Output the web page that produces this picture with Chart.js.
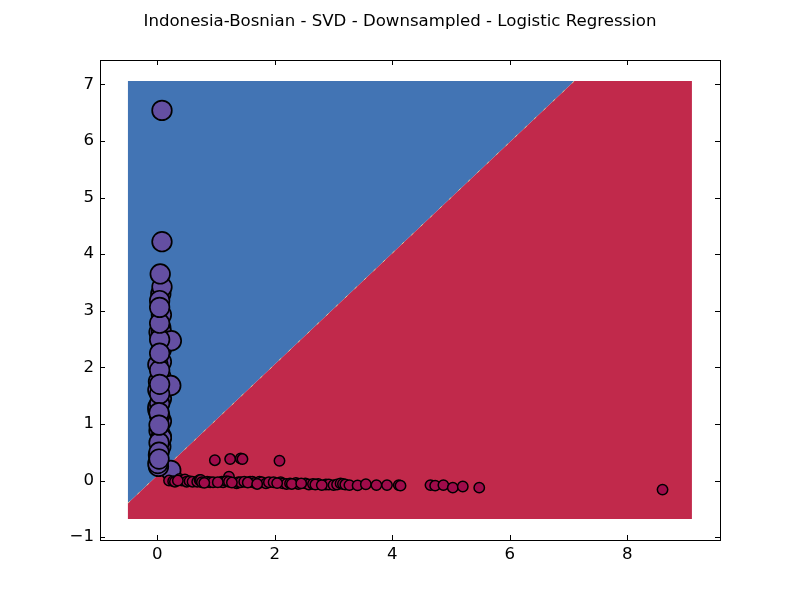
<!DOCTYPE html>
<html>
<head>
<meta charset="utf-8">
<title>Indonesia-Bosnian</title>
<script src="https://cdn.jsdelivr.net/npm/chart.js@4"></script>
<style>
  html, body { margin: 0; padding: 0; background: #fff; }
  #wrap { width: 800px; height: 600px; }
</style>
</head>
<body>
<div id="wrap"><canvas id="chart" width="800" height="600"></canvas></div>
<script>
const chartTitle = 'Indonesia-Bosnian - SVD - Downsampled - Logistic Regression';
const xTicks = [0, 2, 4, 6, 8];
const yTicks = [-1, 0, 1, 2, 3, 4, 5, 6, 7];

// decision regions
const blueRegionX = [-0.5, -0.5, 7.1];
const blueRegionY = [-0.4, 7.06, 7.06];
const redRegionX = [-0.5, 7.1, 9.1, 9.1, -0.5];
const redRegionY = [-0.4, 7.06, 7.06, -0.68, -0.68];
const boundaryX = [-0.5, 7.1];
const boundaryY = [-0.4, 7.06];

// class 1 (purple), last ones end up on top
const purpleX = [0.07, 0.06, 0.03, 0.07, 0.06, 0.02, 0.07, 0.01, 0.07, 0.03, 0.07, 0.06, 0.02, 0.07, 0.01, 0.06, 0.01, 0.07, 0.01, 0.07,
  0.24, 0.23, 0.23, 0.08, 0.08, 0.08, 0.04, 0.04, 0.04, 0.04, 0.04, 0.04, 0.03, 0.02, 0.01, 0.03,
  0.03, 0.03, 0.03, 0.04, 0.04, 0.04, 0.04, 0.05];
const purpleY = [2.93, 2.7, 2.62, 2.1, 1.84, 1.75, 1.45, 1.25, 1.05, 0.88, 0.78, 0.6, 0.45, 2.32, 1.6, 3.3, 1.3, 0.75, 2.05, 2.62,
  2.47, 1.68, 0.18, 6.54, 4.22, 3.42, 3.18, 2.49, 1.95, 1.36, 1.53, 1.15, 0.67, 0.25, 0.3, 1.2,
  0.5, 0.38, 0.98, 1.7, 2.25, 2.78, 3.06, 3.65];

// class 2 (red), last ones end up on top
const redX = [0.98, 1.24, 1.42, 1.45, 2.08, 1.22,
  0.2, 0.27, 0.3, 0.38, 0.42, 0.47, 0.5, 0.55, 0.6, 0.68, 0.72, 0.74, 0.76, 0.85, 0.9, 0.95, 1.1, 1.12, 1.18, 1.22, 1.35, 1.38, 1.42, 1.48, 1.58, 1.62, 1.66, 1.74, 1.78, 1.85, 1.9, 1.98, 2.1, 2.14, 2.2, 2.26, 2.36, 2.4, 2.52, 2.58, 2.65, 2.74, 2.87, 2.92, 3.0, 3.06, 3.12, 3.16, 3.2,
  0.35, 0.8, 1.03, 1.27, 1.54, 1.7, 2.04, 2.29, 2.45, 2.69, 2.8, 3.27, 3.41, 3.55, 3.73, 3.91, 4.11, 4.14, 4.65, 4.73, 4.87, 5.03, 5.2, 5.48, 8.6];
const redY = [0.36, 0.38, 0.39, 0.38, 0.35, 0.07,
  0.0, -0.01, -0.02, 0.03, 0.0, 0.02, -0.02, -0.01, -0.02, -0.02, 0.01, 0.01, -0.03, -0.02, -0.03, -0.03, -0.02, -0.03, -0.01, -0.02, -0.05, -0.03, -0.03, -0.02, -0.02, -0.02, -0.04, -0.02, -0.03, -0.05, -0.03, -0.03, -0.03, -0.05, -0.06, -0.05, -0.04, -0.06, -0.05, -0.07, -0.06, -0.06, -0.07, -0.07, -0.08, -0.07, -0.05, -0.06, -0.07,
  0.0, -0.04, -0.03, -0.035, -0.035, -0.06, -0.045, -0.06, -0.05, -0.07, -0.08, -0.08, -0.085, -0.065, -0.08, -0.08, -0.08, -0.09, -0.08, -0.09, -0.08, -0.125, -0.105, -0.125, -0.16];

function toPoints(xs, ys) {
  return xs.map((x, i) => ({ x: x, y: ys[i] }));
}

// matplotlib style frame, ticks on all four sides pointing in
const framePlugin = {
  id: 'frame',
  afterDraw(chart) {
    const c = chart.ctx;
    const a = chart.chartArea;
    const sx = chart.scales.x;
    const sy = chart.scales.y;
    c.save();
    c.strokeStyle = '#000';
    c.lineWidth = 1;
    c.strokeRect(a.left + 0.5, a.top + 0.5, a.right - a.left, a.bottom - a.top);
    c.beginPath();
    xTicks.forEach(v => {
      const p = Math.round(sx.getPixelForValue(v)) + 0.5;
      c.moveTo(p, a.top); c.lineTo(p, a.top + 5);
      c.moveTo(p, a.bottom); c.lineTo(p, a.bottom - 5);
    });
    yTicks.forEach(v => {
      const p = Math.round(sy.getPixelForValue(v)) + 0.5;
      c.moveTo(a.left, p); c.lineTo(a.left + 5, p);
      c.moveTo(a.right, p); c.lineTo(a.right - 5, p);
    });
    c.stroke();
    c.restore();
  }
};

new Chart(document.getElementById('chart'), {
  type: 'scatter',
  data: {
    datasets: [
      { data: toPoints(blueRegionX, blueRegionY), showLine: true, fill: 'shape', backgroundColor: '#4274b4', borderWidth: 0, pointRadius: 0, order: 5 },
      { data: toPoints(redRegionX, redRegionY), showLine: true, fill: 'shape', backgroundColor: '#c1294b', borderWidth: 0, pointRadius: 0, order: 4 },
      { data: toPoints(boundaryX, boundaryY), showLine: true, borderColor: '#f3e28f', borderWidth: 0.7, borderDash: [3, 10], pointRadius: 0, order: 3 },
      { data: toPoints(purpleX, purpleY), backgroundColor: '#644fa2', borderColor: '#000', borderWidth: 1.7, pointRadius: 9.8, order: 2 },
      { data: toPoints(redX, redY), backgroundColor: '#a00b4a', borderColor: '#000', borderWidth: 1.5, pointRadius: 5.2, order: 1 }
    ]
  },
  plugins: [framePlugin],
  options: {
    responsive: false,
    animation: false,
    plugins: {
      legend: { display: false },
      tooltip: { enabled: false },
      title: {
        display: true,
        text: chartTitle,
        color: '#000',
        font: { family: 'DejaVu Sans', size: 16.6, weight: 'normal', lineHeight: 1.2 },
        padding: { top: 12, bottom: 28.08 }
      }
    },
    scales: {
      x: {
        type: 'linear',
        min: -0.975,
        max: 9.578,
        afterBuildTicks: s => { s.ticks = xTicks.map(v => ({ value: v })); },
        afterFit: s => { s.height = 60; },
        grid: { display: false, drawTicks: false },
        border: { display: false },
        ticks: { color: '#000', maxRotation: 0, padding: 5, font: { family: 'DejaVu Sans', size: 16.6 } }
      },
      y: {
        type: 'linear',
        min: -1.05,
        max: 7.43,
        afterBuildTicks: s => { s.ticks = yTicks.map(v => ({ value: v })); },
        afterFit: s => { s.width = 100; },
        grid: { display: false, drawTicks: false },
        border: { display: false },
        ticks: {
          color: '#000',
          padding: 6,
          font: { family: 'DejaVu Sans', size: 16.6 },
          callback: v => String(v).replace('-', '\u2212')
        }
      },
      // empty axis, only keeps the right margin so the title stays centred on the page
      yRight: {
        type: 'linear',
        position: 'right',
        afterFit: s => { s.width = 80; },
        grid: { display: false, drawTicks: false },
        border: { display: false },
        ticks: { display: false }
      }
    }
  }
});
</script>
</body>
</html>
